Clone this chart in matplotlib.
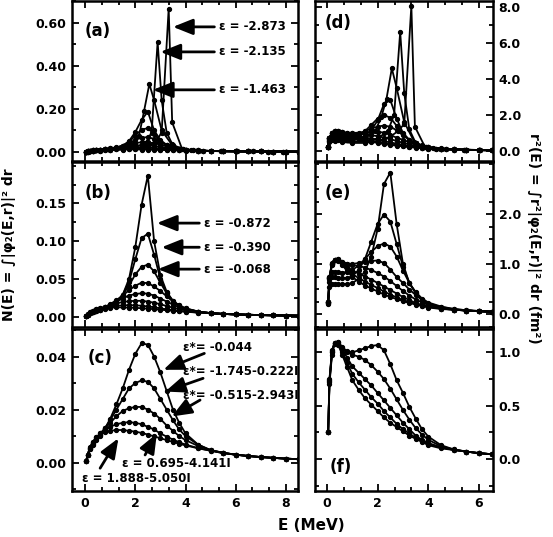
import matplotlib
matplotlib.use("Agg")
import matplotlib.pyplot as plt
from matplotlib.ticker import MultipleLocator, FixedLocator

plt.rcParams['font.family'] = ['DejaVu Sans']
plt.rcParams['font.weight'] = 'bold'

# ---- data ----
# sharp resonances (own energy grids)
E1 = [0.05, 0.1, 0.3, 0.6, 1.0, 1.5, 2.0, 2.5, 2.8, 3.05, 3.33, 3.47, 3.86, 4.2, 4.7, 5.4, 6.05, 6.7, 7.3, 7.9, 8.5]
N1 = [0.001, 0.002, 0.004, 0.006, 0.008, 0.011, 0.016, 0.028, 0.045, 0.09, 0.665, 0.137, 0.015, 0.007, 0.005, 0.0035, 0.0028, 0.0022, 0.0018, 0.0015, 0.0012]
R1 = [0.2, 0.5, 0.55, 0.5, 0.45, 0.45, 0.55, 0.8, 1.1, 1.5, 8.05, 1.35, 0.25, 0.15, 0.1, 0.07, 0.05, 0.04, 0.035, 0.03, 0.025]

E2 = [0.05, 0.1, 0.3, 0.6, 1.0, 1.5, 2.0, 2.4, 2.65, 2.89, 3.05, 3.25, 3.5, 3.9, 4.3, 4.7, 5.4, 6.05, 6.7, 7.3, 7.9, 8.5]
N2 = [0.001, 0.002, 0.004, 0.006, 0.009, 0.013, 0.022, 0.04, 0.09, 0.51, 0.24, 0.09, 0.03, 0.012, 0.007, 0.005, 0.0035, 0.0028, 0.0022, 0.0018, 0.0015, 0.0012]
R2 = [0.2, 0.55, 0.6, 0.55, 0.52, 0.55, 0.7, 1.1, 2.0, 6.6, 3.2, 1.2, 0.45, 0.2, 0.13, 0.1, 0.07, 0.05, 0.04, 0.035, 0.03, 0.025]

E3 = [0.05, 0.1, 0.3, 0.6, 1.0, 1.5, 1.9, 2.15, 2.35, 2.56, 2.75, 3.05, 3.45, 3.9, 4.3, 4.7, 5.4, 6.05, 6.7, 7.3, 7.9, 8.5]
N3 = [0.001, 0.002, 0.005, 0.007, 0.010, 0.016, 0.035, 0.075, 0.19, 0.315, 0.24, 0.10, 0.035, 0.013, 0.008, 0.005, 0.0035, 0.0028, 0.0022, 0.0018, 0.0015, 0.0012]
R3 = [0.2, 0.6, 0.65, 0.6, 0.6, 0.7, 1.1, 1.9, 2.9, 4.58, 3.5, 1.6, 0.5, 0.22, 0.14, 0.1, 0.07, 0.05, 0.04, 0.035, 0.03, 0.025]

# broader curves on a common grid
E = [0.05, 0.1, 0.2, 0.3, 0.45, 0.6, 0.8, 1.0, 1.25, 1.5, 1.75, 2.0, 2.25, 2.5, 2.75,
     3.0, 3.25, 3.5, 3.75, 4.0, 4.5, 5.0, 5.5, 6.0, 6.5, 7.0, 7.5, 8.0, 8.5]
N4 = [0.0008, 0.0025, 0.0045, 0.006, 0.0075, 0.009, 0.0105, 0.013, 0.018, 0.029, 0.050, 0.092, 0.148, 0.187, 0.100,
      0.055, 0.033, 0.021, 0.014, 0.010, 0.0065, 0.0045, 0.0036, 0.003, 0.0025, 0.0021, 0.0018, 0.0015, 0.0013]
N5 = [0.0008, 0.0025, 0.0045, 0.006, 0.0075, 0.0092, 0.011, 0.014, 0.019, 0.029, 0.046, 0.076, 0.104, 0.110, 0.082,
      0.050, 0.031, 0.020, 0.014, 0.010, 0.0065, 0.0045, 0.0036, 0.003, 0.0025, 0.0021, 0.0018, 0.0015, 0.0013]
N6 = [0.0008, 0.0025, 0.0047, 0.0062, 0.0078, 0.0094, 0.0115, 0.0145, 0.020, 0.029, 0.041, 0.056, 0.066, 0.069, 0.060,
      0.045, 0.031, 0.021, 0.015, 0.011, 0.0068, 0.0046, 0.0036, 0.003, 0.0025, 0.0021, 0.0018, 0.0015, 0.0013]
N7 = [0.0008, 0.0027, 0.005, 0.0068, 0.0085, 0.0102, 0.013, 0.0165, 0.022, 0.028, 0.035, 0.041, 0.045, 0.0445, 0.040,
      0.034, 0.027, 0.020, 0.015, 0.011, 0.0068, 0.0047, 0.0037, 0.003, 0.0025, 0.0021, 0.0018, 0.0015, 0.0013]
N8 = [0.0008, 0.0028, 0.0052, 0.007, 0.0088, 0.0105, 0.013, 0.016, 0.020, 0.024, 0.028, 0.030, 0.031, 0.0305, 0.028,
      0.024, 0.020, 0.016, 0.0125, 0.010, 0.0068, 0.0047, 0.0037, 0.003, 0.0025, 0.0021, 0.0018, 0.0015, 0.0013]
N9 = [0.0008, 0.003, 0.0055, 0.0073, 0.0092, 0.011, 0.013, 0.015, 0.0175, 0.0195, 0.0205, 0.021, 0.021, 0.020, 0.0185,
      0.0165, 0.014, 0.012, 0.010, 0.0085, 0.0063, 0.0047, 0.0037, 0.003, 0.0025, 0.0021, 0.0018, 0.0015, 0.0013]
N10 = [0.0008, 0.003, 0.0057, 0.0076, 0.0095, 0.011, 0.0125, 0.0135, 0.0145, 0.015, 0.0153, 0.015, 0.0145, 0.0135, 0.0125,
       0.011, 0.0098, 0.0087, 0.0077, 0.0068, 0.0055, 0.0045, 0.0036, 0.003, 0.0025, 0.0021, 0.0018, 0.0015, 0.0013]
N11 = [0.0008, 0.003, 0.0058, 0.0078, 0.0095, 0.0105, 0.0115, 0.012, 0.0123, 0.0123, 0.012, 0.0117, 0.0112, 0.0106, 0.0099,
       0.0092, 0.0085, 0.0078, 0.0071, 0.0065, 0.0054, 0.0045, 0.0036, 0.003, 0.0025, 0.0021, 0.0018, 0.0015, 0.0013]

R4 = [0.2, 0.55, 0.6, 0.6, 0.6, 0.6, 0.6, 0.62, 0.7, 0.85, 1.15, 1.7, 2.6, 2.83, 1.8,
      1.0, 0.62, 0.42, 0.28, 0.2, 0.13, 0.09, 0.07, 0.055, 0.045, 0.04, 0.035, 0.03, 0.025]
R5 = [0.22, 0.65, 0.74, 0.74, 0.73, 0.72, 0.72, 0.76, 0.88, 1.1, 1.45, 1.8, 1.99, 1.85, 1.4,
      0.95, 0.62, 0.42, 0.29, 0.21, 0.14, 0.1, 0.075, 0.06, 0.05, 0.04, 0.035, 0.03, 0.025]
R6 = [0.23, 0.72, 0.84, 0.85, 0.84, 0.83, 0.84, 0.88, 0.97, 1.1, 1.24, 1.36, 1.41, 1.35, 1.15,
      0.87, 0.62, 0.44, 0.31, 0.23, 0.15, 0.1, 0.075, 0.06, 0.05, 0.04, 0.035, 0.03, 0.025]
R7 = [0.25, 0.7, 0.98, 1.08, 1.1, 1.05, 1.01, 1.0, 1.02, 1.04, 1.06, 1.07, 1.02, 0.89, 0.74,
      0.62, 0.49, 0.38, 0.28, 0.21, 0.13, 0.09, 0.07, 0.055, 0.045, 0.04, 0.035, 0.03, 0.025]
R8 = [0.25, 0.72, 1.0, 1.09, 1.1, 1.04, 1.0, 0.98, 0.96, 0.93, 0.88, 0.82, 0.75, 0.66, 0.56,
      0.46, 0.37, 0.29, 0.23, 0.18, 0.12, 0.09, 0.07, 0.055, 0.045, 0.04, 0.035, 0.03, 0.025]
R9 = [0.25, 0.73, 1.0, 1.09, 1.09, 1.03, 0.95, 0.87, 0.81, 0.75, 0.69, 0.62, 0.55, 0.48, 0.41,
      0.34, 0.28, 0.22, 0.18, 0.15, 0.11, 0.085, 0.07, 0.055, 0.045, 0.04, 0.035, 0.03, 0.025]
R10 = [0.25, 0.74, 1.01, 1.09, 1.08, 1.0, 0.9, 0.8, 0.72, 0.65, 0.58, 0.52, 0.45, 0.39, 0.33,
       0.28, 0.24, 0.2, 0.17, 0.14, 0.11, 0.085, 0.07, 0.055, 0.045, 0.04, 0.035, 0.03, 0.025]
R11 = [0.25, 0.75, 1.02, 1.09, 1.07, 0.98, 0.86, 0.74, 0.65, 0.57, 0.51, 0.45, 0.39, 0.34, 0.3,
       0.26, 0.22, 0.19, 0.16, 0.13, 0.1, 0.085, 0.07, 0.055, 0.045, 0.04, 0.035, 0.03, 0.025]

sharp_N = [(E1, N1), (E2, N2), (E3, N3)]
sharp_R = [(E1, R1), (E2, R2), (E3, R3)]
mid_N = [N4, N5, N6]
mid_R = [R4, R5, R6]
broad_N = [N7, N8, N9, N10, N11]
broad_R = [R7, R8, R9, R10, R11]

labels_a = ["ε = -2.873", "ε = -2.135", "ε = -1.463"]
labels_b = ["ε = -0.872", "ε = -0.390", "ε = -0.068"]
labels_c = ["ε*= -0.044", "ε*= -1.745-0.222I", "ε*= -0.515-2.943I",
            "ε = 0.695-4.141I", "ε = 1.888-5.050I"]

# ---- figure ----
W, H = 553, 537
fig = plt.figure(figsize=(W / 100, H / 100), dpi=100)


def box(x0, y0, x1, y1):
    return [x0 / W, 1 - y1 / H, (x1 - x0) / W, (y1 - y0) / H]


axa = fig.add_axes(box(72, 1, 298, 161))
axb = fig.add_axes(box(72, 162, 298, 327))
axc = fig.add_axes(box(72, 329, 298, 491))
axd = fig.add_axes(box(315, 1, 493, 161))
axe = fig.add_axes(box(315, 162, 493, 327))
axf = fig.add_axes(box(315, 329, 493, 491))

sty = dict(color='k', lw=1.3, marker='o', ms=2.8)

for ex, y in sharp_N:
    axa.plot(ex, y, **sty)
for y in mid_N + broad_N:
    axa.plot(E, y, **sty)
    axb.plot(E, y, **sty)
for y in broad_N:
    axc.plot(E, y, **sty)

for ex, y in sharp_R:
    axd.plot(ex, y, **sty)
for y in mid_R + broad_R:
    axd.plot(E, y, **sty)
    axe.plot(E, y, **sty)
for y in broad_R:
    axf.plot(E, y, **sty)


def style(ax, ylim, yticks, yminor, right, xlim, xlabels, yfmt):
    ax.set_xlim(*xlim)
    ax.set_ylim(*ylim)
    ax.yaxis.set_major_locator(FixedLocator(yticks))
    ax.yaxis.set_minor_locator(MultipleLocator(yminor))
    ax.yaxis.set_major_formatter(plt.FormatStrFormatter(yfmt))
    ax.xaxis.set_major_locator(MultipleLocator(2))
    ax.xaxis.set_minor_locator(MultipleLocator(2 / 3))
    ax.xaxis.set_major_formatter(plt.FormatStrFormatter('%d'))
    ax.tick_params(which='both', direction='in', top=True, right=True, width=1.3)
    ax.tick_params(which='major', length=5, labelsize=9, pad=4)
    ax.tick_params(which='minor', length=3)
    if right:
        ax.tick_params(labelleft=False, labelright=True)
    if not xlabels:
        ax.tick_params(labelbottom=False)
    for s in ax.spines.values():
        s.set_linewidth(1.8)
    for t in ax.get_xticklabels() + ax.get_yticklabels():
        t.set_fontweight('bold')


style(axa, (-0.042, 0.70), [0, 0.2, 0.4, 0.6], 0.1, False, (-0.52, 8.48), False, '%.2f')
style(axb, (-0.0137, 0.205), [0, 0.05, 0.10, 0.15], 0.025, False, (-0.52, 8.48), False, '%.2f')
style(axc, (-0.0107, 0.0504), [0, 0.02, 0.04], 0.01, False, (-0.52, 8.48), True, '%.2f')
style(axd, (-0.55, 8.31), [0, 2, 4, 6, 8], 1, True, (-0.47, 6.55), False, '%.1f')
style(axe, (-0.26, 3.04), [0, 1, 2], 0.25, True, (-0.47, 6.55), False, '%.1f')
style(axf, (-0.30, 1.22), [0, 0.5, 1.0], 0.25, True, (-0.47, 6.55), True, '%.1f')

# panel letters
lab = dict(fontsize=12, fontweight='bold', va='center', ha='left')
axa.text(0.055, 0.81, "(a)", transform=axa.transAxes, **lab)
axb.text(0.055, 0.81, "(b)", transform=axb.transAxes, **lab)
axc.text(0.07, 0.82, "(c)", transform=axc.transAxes, **lab)
axd.text(0.056, 0.86, "(d)", transform=axd.transAxes, **lab)
axe.text(0.056, 0.81, "(e)", transform=axe.transAxes, **lab)
axf.text(0.08, 0.15, "(f)", transform=axf.transAxes, **lab)

# arrows with labels
arr = dict(arrowstyle='-|>,head_length=1.0,head_width=0.4', color='k', lw=2.0,
           shrinkA=0, shrinkB=0, mutation_scale=12)
tx = dict(fontsize=8.5, fontweight='bold', va='center', ha='left')


def note(ax, text, tpos, tail, head):
    ax.annotate("", xy=head, xytext=tail, arrowprops=arr)
    ax.text(tpos[0], tpos[1], text, **tx)


note(axa, labels_a[0], (5.35, 0.58), (5.15, 0.58), (3.5, 0.58))
note(axa, labels_a[1], (5.35, 0.464), (5.15, 0.464), (3.0, 0.464))
note(axa, labels_a[2], (5.35, 0.288), (5.15, 0.288), (2.7, 0.288))

note(axb, labels_b[0], (4.75, 0.124), (4.55, 0.124), (2.86, 0.124))
note(axb, labels_b[1], (4.75, 0.092), (4.55, 0.092), (3.05, 0.092))
note(axb, labels_b[2], (4.75, 0.063), (4.55, 0.063), (2.9, 0.063))

note(axc, labels_c[0], (3.9, 0.0435), (4.75, 0.0412), (3.12, 0.0350))
note(axc, labels_c[1], (3.92, 0.0343), (4.7, 0.0318), (3.19, 0.0268))
note(axc, labels_c[2], (3.92, 0.0255), (4.58, 0.0236), (3.45, 0.0174))
note(axc, labels_c[3], (1.46, -0.0003), (2.39, 0.0029), (2.86, 0.0110))
note(axc, labels_c[4], (-0.13, -0.0059), (0.6, -0.0021), (1.33, 0.0092))

# axis titles
fig.text(0.016, 0.545, "N(E) = ∫|φ₂(E,r)|² dr", rotation=90, fontsize=10,
         fontweight='bold', ha='center', va='center')
fig.text(0.966, 0.557, "r²(E) = ∫r²|φ₂(E,r)|² dr (fm²)", rotation=270, fontsize=10,
         fontweight='bold', ha='center', va='center')
fig.text(0.563, 0.022, "E (MeV)", fontsize=11, fontweight='bold', ha='center', va='center')

fig.savefig("out.png", dpi=100)
